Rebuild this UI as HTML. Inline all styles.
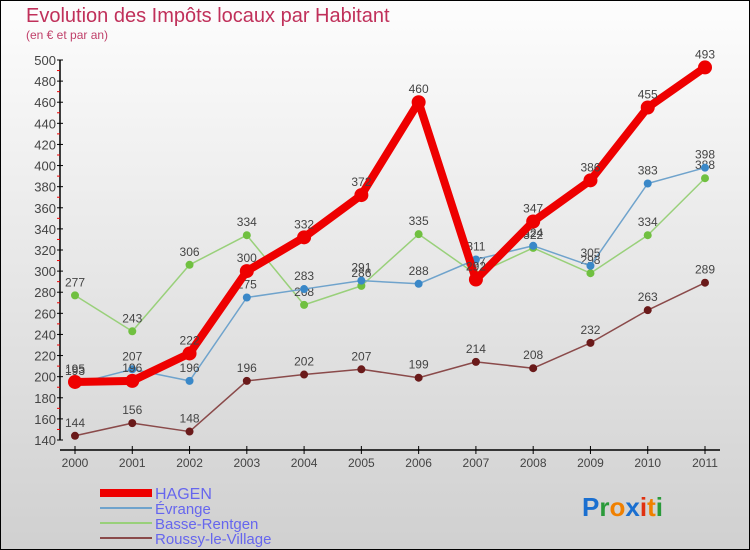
<!DOCTYPE html>
<html><head><meta charset="utf-8"><style>
body{margin:0}
#c{width:750px;height:550px;position:relative;background:linear-gradient(#fdfdfd,#d0d0d0);box-sizing:border-box;border:1px solid #000;font-family:"Liberation Sans",sans-serif;overflow:hidden}
svg text{font-family:"Liberation Sans",sans-serif}
</style></head><body>
<div id="c">
<svg id="s" width="750" height="550" style="position:absolute;left:-1px;top:-1px">
<text x="26" y="22" font-size="20" fill="#c0305a">Evolution des Impôts locaux par Habitant</text>
<text x="26" y="39" font-size="12" fill="#c0406a">(en € et par an)</text>
<g id="ax"></g><g id="ser"></g>
<g>
<line x1="100" y1="493" x2="152" y2="493" stroke="#e00" stroke-width="8"/>
<text x="155" y="499" font-size="16" fill="#6666ee">HAGEN</text>
<line x1="100" y1="508" x2="152" y2="508" stroke="#6fa3cc" stroke-width="2"/>
<text x="155" y="514" font-size="15" fill="#6666ee">Évrange</text>
<line x1="100" y1="523" x2="152" y2="523" stroke="#99d07a" stroke-width="2"/>
<text x="155" y="529" font-size="15" fill="#6666ee">Basse-Rentgen</text>
<line x1="100" y1="538" x2="152" y2="538" stroke="#8a4a4a" stroke-width="2"/>
<text x="155" y="544" font-size="15" fill="#6666ee">Roussy-le-Village</text>
</g>
<text x="582" y="516" font-size="26" font-weight="bold"><tspan fill="#1a6fd0">P</tspan><tspan fill="#2a9a3a">r</tspan><tspan fill="#f08000">o</tspan><tspan fill="#1a6fd0">x</tspan><tspan fill="#e03010">i</tspan><tspan fill="#f08000">t</tspan><tspan fill="#2a9a3a">i</tspan></text>
</svg>
</div>
<script>
const years=["2000","2001","2002","2003","2004","2005","2006","2007","2008","2009","2010","2011"];
const hagen=[195,196,222,300,332,372,460,292,347,386,455,493];
const evrange=[193,207,196,275,283,291,288,311,324,305,383,398];
const basse=[277,243,306,334,268,286,335,297,322,298,334,388];
const roussy=[144,156,148,196,202,207,199,214,208,232,263,289];
const yTicks=[140,160,180,200,220,240,260,280,300,320,340,360,380,400,420,440,460,480,500];
const NS="http://www.w3.org/2000/svg";
const X=i=>75+i*(630/11);
const Y=v=>440-(v-140)*(380/360);
function mk(t,a,p){const e=document.createElementNS(NS,t);for(const k in a)e.setAttribute(k,a[k]);p.appendChild(e);return e;}
const ax=document.getElementById('ax');
const yl=mk('line',{x1:60,y1:Y(500),x2:60,y2:Y(140),stroke:'#000','stroke-width':1.5},ax);


const xl=mk('line',{x1:60,y1:450,x2:720,y2:450,stroke:'#000','stroke-width':1.5},ax);


yTicks.forEach(v=>{
 mk('line',{x1:57,y1:Y(v),x2:63,y2:Y(v),stroke:'#000'},ax);
 if(v<500)mk('line',{x1:57,y1:Y(v+10),x2:60,y2:Y(v+10),stroke:'#e00'},ax);
 const t=mk('text',{x:56,y:Y(v)+5,'font-size':13,'text-anchor':'end',fill:'#444'},ax);t.textContent=v;
 
 
});
years.forEach((y,i)=>{
 mk('line',{x1:X(i),y1:446,x2:X(i),y2:454,stroke:'#000'},ax);
 const t=mk('text',{x:X(i),y:467,'font-size':12,'text-anchor':'middle',fill:'#444'},ax);t.textContent=y;
 
 
});
const ser=document.getElementById('ser');
function draw(d,col,dot,w,r,name){
 const g=mk('g',{},ser);
 
 
 mk('polyline',{points:d.map((v,i)=>X(i)+','+Y(v)).join(' '),fill:'none',stroke:col,'stroke-width':w,'stroke-linejoin':'round'},g);
 d.forEach((v,i)=>{
  const c=mk('circle',{cx:X(i),cy:Y(v),r:r,fill:dot},g);
  
  
  const t=mk('text',{x:X(i),y:Y(v)-9,'font-size':12,'text-anchor':'middle',fill:'#444'},g);t.textContent=v;
 });
}
draw(roussy,'#8a4a4a','#6a1a1a',1.5,4,'roussy-series');
draw(basse,'#99d07a','#70c040',1.5,4,'basse-rentgen-series');
draw(evrange,'#6fa3cc','#3a88c8',1.5,4,'evrange-series');
draw(hagen,'#e00','#e00',8,7,'hagen-series');
</script>
</body></html>
